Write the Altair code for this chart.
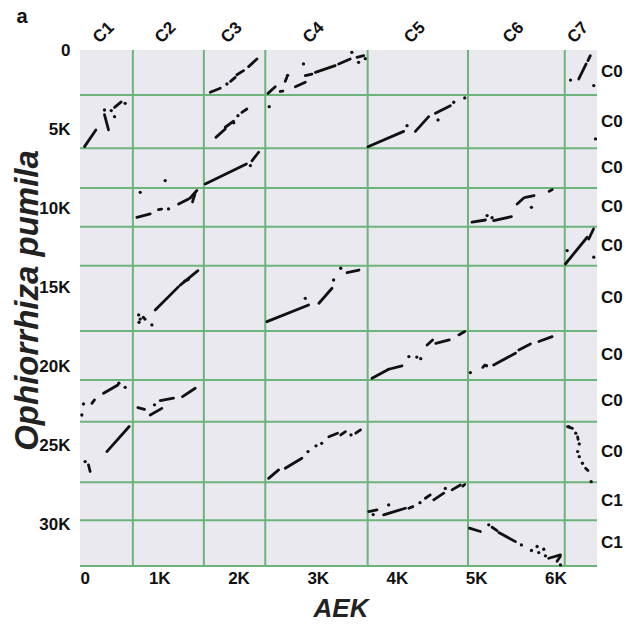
import altair as alt
import pandas as pd

# ---- data (positions in thousands of genes) ----
col_names = ["C1", "C2", "C3", "C4", "C5", "C6", "C7"]
col_bounds = [0.667, 1.563, 2.338, 3.63, 4.896, 6.117]
row_names = ["C0", "C0", "C0", "C0", "C0", "C0", "C0", "C0", "C0", "C1", "C1"]
row_bounds = [2.84, 6.21, 8.72, 11.16, 13.63, 17.75, 20.85, 23.48, 27.31, 29.71]
x_max = 6.524
y_max = 32.6
x_ticks = [0, 1, 2, 3, 4, 5, 6]
y_ticks = [0, 5, 10, 15, 20, 25, 30]

seg_x1 = [1.644, 1.90, 1.98, 2.128,
          2.372, 2.527, 2.59, 2.717, 2.843, 2.97, 3.264, 3.495,
          6.294, 6.41,
          0.057, 0.309, 0.436,
          1.715, 1.833, 2.043,
          3.634, 4.232, 4.485,
          1.58, 2.17,
          0.718, 0.99, 1.244, 1.39, 1.42,
          4.947, 5.22, 5.516, 5.62, 5.92,
          6.125, 6.42,
          0.949, 1.265, 1.32,
          2.359, 3.015, 3.37,
          3.685, 3.895, 4.38, 4.49, 4.78,
          5.082, 5.22, 5.537, 5.79,
          0.15, 0.297,
          0.73, 0.886, 1.012, 1.294,
          0.339, 0.107,
          2.38, 2.59, 3.14, 3.29, 3.48,
          6.151, 6.28, 6.38,
          3.643, 3.832, 4.15, 4.358, 4.463, 4.695, 4.83,
          4.914, 5.2, 5.284, 5.915, 6.02]
seg_y1 = [2.67, 1.98, 1.56, 1.05,
          2.74, 2.62, 1.98, 2.32, 1.62, 1.41, 0.88, 0.46,
          1.83, 0.67,
          6.105, 4.08, 3.62,
          5.52, 4.88, 3.94,
          6.11, 5.14, 4.0,
          8.46, 7.0,
          10.57, 10.08, 9.73, 9.35, 9.6,
          10.88, 10.78, 9.73, 9.31, 8.93,
          13.52, 11.94,
          16.42, 14.85, 14.6,
          17.16, 16.0, 14.07,
          20.74, 20.17, 18.64, 18.53, 18.0,
          20.05, 19.9, 18.95, 18.42,
          22.32, 21.69,
          22.59, 23.06, 22.15, 21.9,
          25.37, 26.21,
          27.06, 26.42, 24.43, 24.32, 24.21,
          23.8, 24.45, 26.42,
          29.16, 29.37, 28.95, 28.32, 28.42, 27.79, 27.55,
          30.21, 30.15, 30.49, 32.11, 32.3]
seg_x2 = [1.77, 1.959, 2.064, 2.233,
          2.464, 2.56, 2.61, 2.843, 2.927, 3.22, 3.41, 3.58,
          6.387, 6.44,
          0.2, 0.36, 0.52,
          1.833, 1.938, 2.106,
          4.085, 4.4, 4.674,
          2.10, 2.254,
          0.886, 1.03, 1.37, 1.475, 1.45,
          5.116, 5.444, 5.6, 5.73, 5.96,
          6.4, 6.48,
          1.244, 1.488, 1.37,
          2.885, 3.18, 3.52,
          3.895, 4.064, 4.45, 4.66, 4.855,
          5.11, 5.495, 5.684, 5.958,
          0.183, 0.478,
          0.814, 1.033, 1.18, 1.454,
          0.621, 0.128,
          2.506, 2.8, 3.25, 3.35, 3.54,
          6.215, 6.285, 6.41,
          3.748, 4.106, 4.2, 4.42, 4.59, 4.8, 4.855,
          5.053, 5.263, 5.495, 6.063, 6.06]
seg_y2 = [2.42, 1.73, 1.305, 0.57,
          2.32, 2.6, 1.73, 2.04, 1.52, 0.99, 0.57, 0.36,
          0.88, 0.36,
          5.05, 5.05, 3.28,
          4.99, 4.5, 3.73,
          5.14, 4.21, 3.52,
          7.2, 6.46,
          10.36, 10.05, 9.41, 8.88, 9.1,
          10.74, 10.53, 9.35, 9.2, 8.82,
          11.83, 11.31,
          14.95, 13.94, 14.5,
          16.11, 15.05, 13.9,
          20.17, 19.96, 18.32, 18.32, 17.79,
          19.9, 19.16, 18.57, 18.11,
          22.11, 21.16,
          22.7, 22.64, 22.0, 21.37,
          23.79, 26.63,
          26.53, 25.79, 24.21, 24.11, 24.0,
          23.9, 24.6, 26.57,
          29.06, 28.95, 28.85, 28.11, 28.0, 27.48, 27.45,
          30.42, 30.36, 31.06, 31.9, 32.0]

dot_x = [1.854, 2.82, 2.62, 3.43, 3.516, 3.60,
         6.19, 6.483,
         0.309, 0.394, 0.436, 0.57,
         1.993, 1.94, 2.388,
         4.127, 4.518, 4.716, 4.855, 6.505,
         2.15, 1.075,
         0.76, 1.117,
         5.137, 5.697, 5.2,
         6.147, 6.483,
         0.74, 0.76, 0.80, 0.745, 0.82, 0.907,
         2.843, 3.2, 3.29,
         4.15, 4.25, 4.30,
         4.926, 5.13,
         0.023, 0.044, 0.49, 0.57,
         0.94,
         0.065,
         2.877, 2.978, 3.05, 3.42,
         6.256, 6.30, 6.28, 6.30, 6.34, 6.45, 6.168,
         3.895, 4.29, 4.61, 3.70,
         5.158, 5.57, 5.697, 5.768, 5.789, 5.873, 5.852, 6.063]
dot_y = [2.15, 0.88, 1.6, 0.15, 0.78, 0.55,
         1.9, 2.25,
         3.79, 3.83, 4.21, 3.37,
         4.15, 4.6, 3.58,
         4.78, 4.42, 3.3, 3.03, 5.62,
         7.3, 8.25,
         8.99, 10.04,
         10.46, 9.94, 10.6,
         12.67, 13.09,
         16.74, 17.0, 16.9, 17.2, 17.0, 17.37,
         15.69, 14.53, 13.79,
         19.37, 19.4, 19.5,
         20.38, 19.95,
         23.06, 22.36, 21.05, 21.31,
         22.42,
         26.0,
         25.37, 25.01, 24.85, 24.32,
         24.21, 24.89, 25.37, 25.69, 26.11, 27.27, 23.79,
         28.74, 28.6, 27.7, 29.35,
         30.0, 31.27, 31.62, 31.37, 31.75, 31.96, 31.54, 32.53]

# ---- styling ----
W, H = 517, 516
FONT = "Liberation Sans"
GREEN = "#6cb47c"
BG = "#e9e9ef"
INK = "#111111"

segs = pd.DataFrame({"x": seg_x1, "y": seg_y1, "x2": seg_x2, "y2": seg_y2})
dots = pd.DataFrame({"x": dot_x, "y": dot_y})
cols = pd.DataFrame({"x": col_bounds})
rows = pd.DataFrame({"y": row_bounds + [y_max]})
edges_c = [0] + col_bounds + [x_max]
edges_r = [0] + row_bounds + [y_max]
col_lab = pd.DataFrame({"x": [(edges_c[i] + edges_c[i + 1]) / 2 for i in range(len(col_names))],
                        "t": col_names})
row_lab = pd.DataFrame({"y": [(edges_r[i] + edges_r[i + 1]) / 2 for i in range(len(row_names))],
                        "t": row_names})

xs = alt.Scale(domain=[0, x_max], nice=False, zero=False)
ys = alt.Scale(domain=[0, y_max], nice=False, zero=False, reverse=True)

x_axis = alt.Axis(values=x_ticks, labelExpr="datum.value == 0 ? '0' : datum.value + 'K'",
                  title="AEK", titleX=W / 2 + 2, titleY=42, titleAlign="center",
                  titleBaseline="middle", titleFontSize=26, titleFontStyle="italic",
                  titleFontWeight="bold", labelPadding=4)
y_axis = alt.Axis(values=y_ticks, labelExpr="datum.value == 0 ? '0' : datum.value + 'K'",
                  title="Ophiorrhiza pumila", titleX=-53, titleY=250, titleAngle=270,
                  titleAlign="center", titleBaseline="middle", titleFontSize=33,
                  titleFontStyle="italic", titleFontWeight="bold", labelPadding=10)

X = alt.X("x:Q", scale=xs, axis=x_axis)
Y = alt.Y("y:Q", scale=ys, axis=y_axis)

vgrid = alt.Chart(cols).mark_rule(color=GREEN, strokeWidth=2).encode(x=X)
hgrid = alt.Chart(rows).mark_rule(color=GREEN, strokeWidth=2).encode(y=Y)
seg_layer = alt.Chart(segs).mark_rule(color=INK, strokeWidth=2.8, strokeCap="round").encode(
    x=X, y=Y, x2="x2:Q", y2="y2:Q")
dot_layer = alt.Chart(dots).mark_circle(color=INK, size=11, opacity=1).encode(x=X, y=Y)
top_lab = alt.Chart(col_lab).mark_text(angle=315, font=FONT, fontSize=17, fontWeight="bold",
                                       color=INK, align="center", baseline="middle", dx=-4).encode(
    x=X, y=alt.value(-20), text="t:N")
right_lab = alt.Chart(row_lab).mark_text(font=FONT, fontSize=17, fontWeight="bold", color=INK,
                                         align="left", baseline="middle").encode(
    x=alt.value(W + 4), y=Y, text="t:N")
panel_lab = alt.Chart(pd.DataFrame({"t": ["a"]})).mark_text(
    font=FONT, fontSize=20, fontWeight="bold", color=INK, align="center", baseline="middle").encode(
    x=alt.value(-58), y=alt.value(-33), text="t:N")

chart = alt.layer(vgrid, hgrid, seg_layer, dot_layer, top_lab, right_lab, panel_lab).properties(
    width=W, height=H,
    autosize=alt.AutoSizeParams(type="none"),
    padding={"left": 80, "top": 50, "right": 29, "bottom": 67},
).configure_view(fill=BG, stroke=None).configure_axis(
    domain=False, ticks=False, grid=False, labelFont=FONT, titleFont=FONT,
    labelFontSize=17, labelFontWeight="bold", labelColor=INK, titleColor="#222222")

chart.save("out.html", embed_options={"renderer": "svg", "actions": False})
